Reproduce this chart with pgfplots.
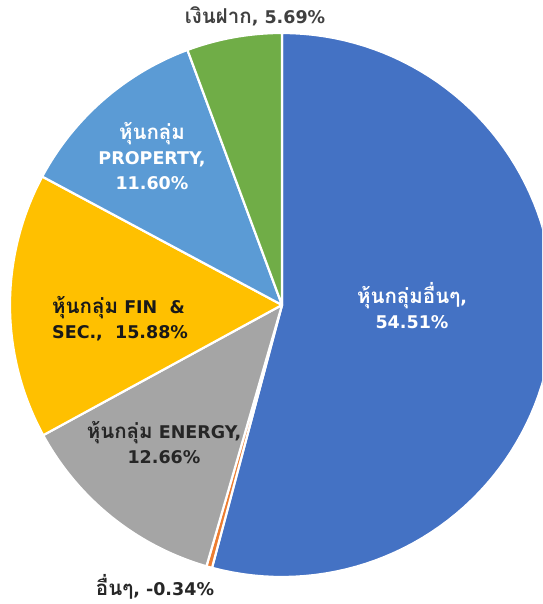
\documentclass[border=0pt]{standalone}
\usepackage{pgfplots}
\pgfplotsset{compat=1.18}
\usepackage{fontspec}
\setmainfont{DejaVu Sans}
\newfontfamily\thaifont[Script=Thai]{Loma}
\newcommand\thw[1]{{\thaifont\bfseries\fontsize{20.5}{25}\selectfont #1}}
\definecolor{sBlue}{HTML}{4472C4}
\definecolor{sOrange}{HTML}{ED7D31}
\definecolor{sGray}{HTML}{A5A5A5}
\definecolor{sGold}{HTML}{FFC000}
\definecolor{sLBlue}{HTML}{5B9BD5}
\definecolor{sGreen}{HTML}{70AD47}
\definecolor{tDark}{HTML}{262626}
\definecolor{tGray}{HTML}{404040}
\begin{document}
\begin{tikzpicture}
\begin{axis}[
  width=542pt, height=604pt, scale only axis,
  xmin=0, xmax=542, ymin=0, ymax=604,
  hide axis, clip=true,
]
% values (absolute values used for angles, as in the source pie)
\pgfmathsetmacro\total{0}
\pgfplotsforeachungrouped \v in {54.51,0.34,12.66,15.88,11.60,5.69}{%
  \pgfmathsetmacro\total{\total+\v}}
\pgfmathsetmacro\k{360/\total}
\pgfmathsetmacro\cum{0}
\pgfplotsforeachungrouped \v/\c in {54.51/sBlue,0.34/sOrange,12.66/sGray,15.88/sGold,11.60/sLBlue,5.69/sGreen}{%
  \pgfmathsetmacro\a{90-\k*\cum}%
  \pgfmathsetmacro\b{90-\k*(\cum+\v)}%
  \edef\tmp{\noexpand\addplot[fill=\c, draw=white, line width=2.2pt, line join=round, domain=\b:\a, samples=90]
    ({282+272*cos(x)},{299+272*sin(x)}) -- (axis cs:282,299) -- cycle;}%
  \tmp
  \pgfmathsetmacro\cum{\cum+\v}%
}
\path (rel axis cs:0,0) rectangle (rel axis cs:1,1);
\tikzset{lab/.style={font=\bfseries\fontsize{17.5}{25}\selectfont, inner sep=0pt}}
\node[lab, text=tGray] at (axis cs:255,588) {\thw{เงินฝาก}, 5.69\%};
\node[lab, text=white, align=center] at (axis cs:152,448) {\thw{หุ้นกลุ่ม}\\PROPERTY,\\11.60\%};
\node[lab, text=black!90, align=left, anchor=west] at (axis cs:52,285) {\thw{หุ้นกลุ่ม} FIN~~\&\\SEC.,~~15.88\%};
\node[lab, text=tDark, align=center] at (axis cs:164,161.5) {\thw{หุ้นกลุ่ม} ENERGY,\\12.66\%};
\node[lab, text=tDark] at (axis cs:155,17) {\thw{อื่นๆ}, -0.34\%};
\node[lab, text=white, align=center] at (axis cs:412,298) {\thw{หุ้นกลุ่มอื่นๆ},\\54.51\%};
\end{axis}
\end{tikzpicture}
\end{document}
